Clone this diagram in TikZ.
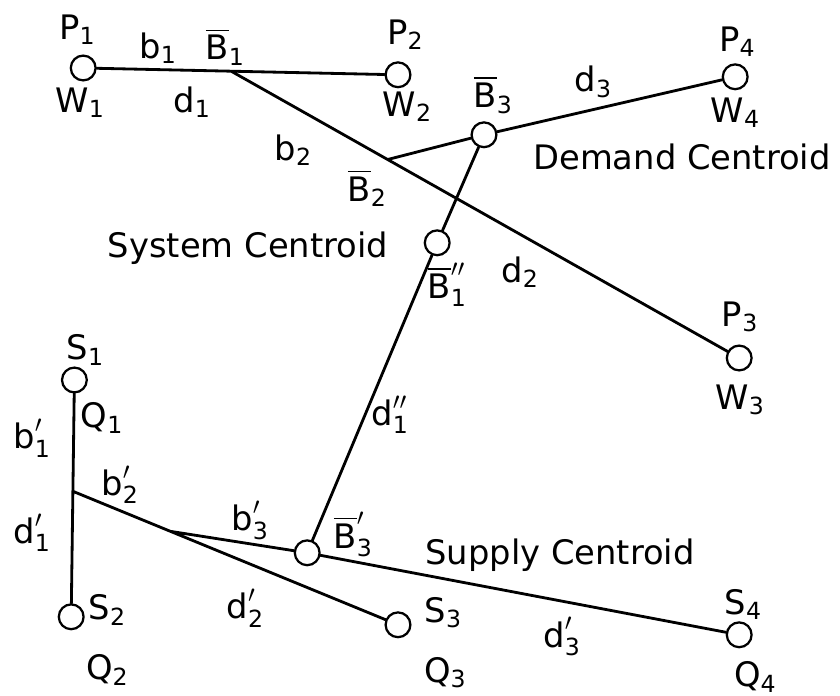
\documentclass[tikz,border=0pt]{standalone}
\usepackage{amsmath}
\usepackage{fontspec}
\setmainfont{DejaVu Sans}
\usetikzlibrary{calc}

\begin{document}
\begin{tikzpicture}[every node/.style={circle,draw,fill=white,line width=1.6pt,inner sep=0pt,minimum size=6.2mm},
  lbl/.style={draw=none,fill=none,inner sep=1pt,font=\fontsize{24}{28}\selectfont},
  link/.style={line width=2pt,line cap=round}]
\useasboundingbox (0,0) rectangle (21,17.4);
% demand points
\node (W1) at (2.08,15.70) {};
\node (W2) at (9.95,15.53) {};
\node (W3) at (18.48,8.45) {};
\node (W4) at (18.38,15.48) {};
\node (B3) at (12.10,14.03) {};
\node (B1pp) at (10.93,11.33) {};
% supply points
\node (S1) at (1.86,7.90) {};
\node (S2) at (1.78,1.98) {};
\node (S3) at (9.95,1.78) {};
\node (S4) at (18.48,1.53) {};
\node (B3p) at (7.68,3.58) {};
\coordinate (B1) at ($(W1)!0.47!(W2)$);
\coordinate (B2) at ($(B1)!0.308!(W3)$);
\coordinate (J1) at ($(S1)!0.47!(S2)$);
\coordinate (J2) at ($(J1)!0.3!(S3)$);
\draw[link] (W1)--(W2) (B1)--(W3) (B2)--(B3) (B3)--(W4) (B3)--(B1pp) (B1pp)--(B3p);
\draw[link] (S1)--(S2) (J1)--(S3) (J2)--(B3p) (B3p)--(S4);
% labels, demand side
\node[lbl] (tP1) at (1.93,16.65) {$\text{P}_{\text{1}}$};
\node[lbl] (tW1) at (2.00,14.83) {$\text{W}_{\text{1}}$};
\node[lbl] (tb1) at (3.95,16.20) {$\text{b}_{\text{1}}$};
\node[lbl] (tB1) at (5.63,16.23) {$\overline{\text{B}}_{\text{1}}$};
\node[lbl] (td1) at (4.80,14.85) {$\text{d}_{\text{1}}$};
\node[lbl] (tP2) at (10.13,16.53) {$\text{P}_{\text{2}}$};
\node[lbl] (tW2) at (10.18,14.73) {$\text{W}_{\text{2}}$};
\node[lbl] (tb2) at (7.33,13.65) {$\text{b}_{\text{2}}$};
\node[lbl] (tB2) at (9.18,12.70) {$\overline{\text{B}}_{\text{2}}$};
\node[lbl] (tB3) at (12.33,15.03) {$\overline{\text{B}}_{\text{3}}$};
\node[lbl] (td3) at (14.83,15.35) {$\text{d}_{\text{3}}$};
\node[lbl] (tP4) at (18.43,16.35) {$\text{P}_{\text{4}}$};
\node[lbl] (tW4) at (18.38,14.58) {$\text{W}_{\text{4}}$};
\node[lbl] (tDem) at (17.05,13.48) {Demand Centroid};
\node[lbl] (tSys) at (6.20,11.20) {System Centroid};
\node[lbl] (tB1pp) at (11.18,10.28) {$\overline{\text{B}}''_{\text{1}}$};
\node[lbl] (td2) at (13.00,10.60) {$\text{d}_{\text{2}}$};
\node[lbl] (tP3) at (18.50,9.48) {$\text{P}_{\text{3}}$};
\node[lbl] (tW3) at (18.50,7.40) {$\text{W}_{\text{3}}$};
% labels, supply side
\node[lbl] (tS1) at (2.13,8.65) {$\text{S}_{\text{1}}$};
\node[lbl] (tQ1) at (2.55,6.95) {$\text{Q}_{\text{1}}$};
\node[lbl] (tb1p) at (0.80,6.45) {$\text{b}'_{\text{1}}$};
\node[lbl] (tb2p) at (3.00,5.28) {$\text{b}'_{\text{2}}$};
\node[lbl] (td1p) at (0.80,4.08) {$\text{d}'_{\text{1}}$};
\node[lbl] (tb3p) at (6.25,4.40) {$\text{b}'_{\text{3}}$};
\node[lbl] (tB3p) at (8.83,4.03) {$\overline{\text{B}}'_{\text{3}}$};
\node[lbl] (td1pp) at (9.75,7.03) {$\text{d}''_{\text{1}}$};
\node[lbl] (tSup) at (14.00,3.53) {Supply Centroid};
\node[lbl] (td2p) at (6.13,2.20) {$\text{d}'_{\text{2}}$};
\node[lbl] (tS2) at (2.68,2.15) {$\text{S}_{\text{2}}$};
\node[lbl] (tQ2) at (2.68,0.65) {$\text{Q}_{\text{2}}$};
\node[lbl] (tS3) at (11.08,2.08) {$\text{S}_{\text{3}}$};
\node[lbl] (tQ3) at (11.13,0.58) {$\text{Q}_{\text{3}}$};
\node[lbl] (td3p) at (14.05,1.48) {$\text{d}'_{\text{3}}$};
\node[lbl] (tS4) at (18.58,2.28) {$\text{S}_{\text{4}}$};
\node[lbl] (tQ4) at (18.88,0.48) {$\text{Q}_{\text{4}}$};
\end{tikzpicture}
\end{document}
